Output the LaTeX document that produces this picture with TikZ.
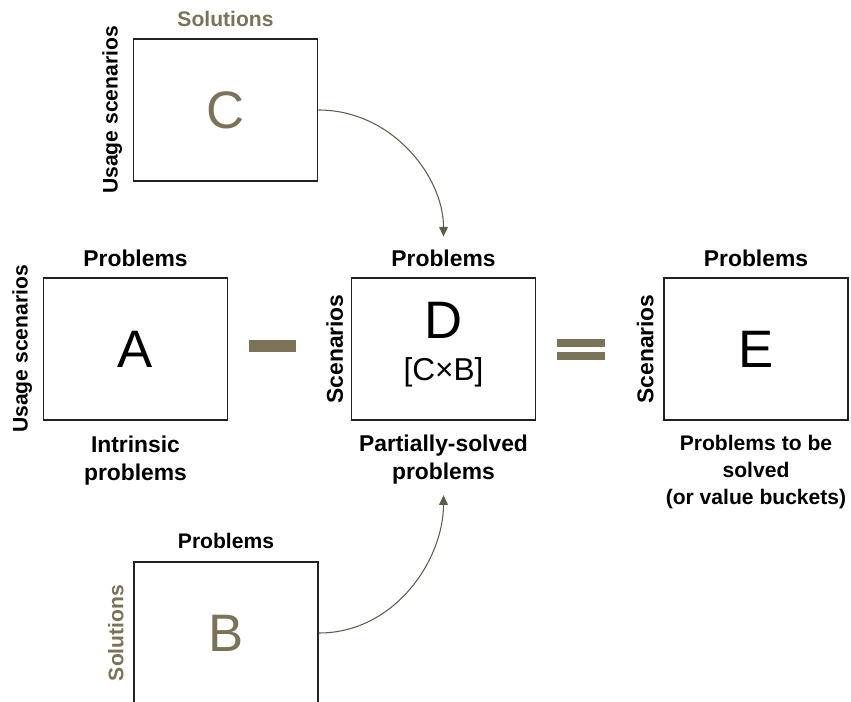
\documentclass[tikz,border=0pt]{standalone}
\usepackage{fontspec}
\setmainfont{Liberation Sans}
\usetikzlibrary{positioning,arrows.meta}
\definecolor{olivetone}{RGB}{122,115,88}
\definecolor{arrowtone}{RGB}{95,92,75}
\definecolor{edgetone}{RGB}{34,34,30}
\tikzset{
  box/.style={draw=edgetone, line width=1.1pt, minimum width=3.68cm, minimum height=2.84cm, inner sep=0pt},
  bigletter/.style={inner sep=0pt, font=\fontsize{30}{36}\selectfont},
  toplabel/.style={inner sep=0pt, font=\fontsize{13}{15}\selectfont\bfseries},
  sidelabel/.style={inner sep=0pt, rotate=90, anchor=south, font=\fontsize{12}{14}\selectfont\bfseries},
  notelabel/.style={inner sep=0pt, align=center, font=\fontsize{13}{15.5}\selectfont\bfseries},
  feed/.style={arrowtone, line width=0.6pt, -{Triangle[length=5.5pt,width=5pt]}}
}

\begin{document}
\begin{tikzpicture}
\useasboundingbox (0cm,0cm) rectangle (17.02cm,-14.04cm);

\node[box, bigletter, text=olivetone] (boxC) at (4.51cm,-2.20cm) {C};
\node[box, bigletter] (boxA) at (2.71cm,-6.98cm) {A};
\node[box] (boxD) at (8.87cm,-6.98cm) {};
\node[box, bigletter] (boxE) at (15.12cm,-6.98cm) {E};
\node[box, bigletter, text=olivetone] (boxB) at (4.52cm,-12.66cm) {B};

\node[bigletter] (letD) at ([yshift=0.58cm]boxD.center) {D};
\node[inner sep=0pt, font=\fontsize{18}{22}\selectfont] (prodD) at ([yshift=-0.46cm]boxD.center) {[C×B]};

\node[toplabel, font=\fontsize{12}{14}\selectfont\bfseries, text=olivetone, above=0.22cm of boxC] (solC) {Solutions};
\node[sidelabel] (useC) at ([xshift=-0.2cm]boxC.west) {Usage scenarios};

\node[toplabel, above=0.2cm of boxA] (probA) {Problems};
\node[sidelabel] (useA) at ([xshift=-0.2cm]boxA.west) {Usage scenarios};
\node[notelabel, below=0.3cm of boxA] (noteA) {Intrinsic\\problems};

\node[toplabel, above=0.2cm of boxD] (probD) {Problems};
\node[sidelabel, font=\fontsize{13}{15}\selectfont\bfseries] (scenD) at ([xshift=-0.14cm]boxD.west) {Scenarios};
\node[notelabel, below=0.28cm of boxD] (noteD) {Partially-solved\\problems};

\node[toplabel, above=0.2cm of boxE] (probE) {Problems};
\node[sidelabel, font=\fontsize{13}{15}\selectfont\bfseries] (scenE) at ([xshift=-0.18cm]boxE.west) {Scenarios};
\node[notelabel, font=\fontsize{12}{15.2}\selectfont\bfseries, below=0.28cm of boxE] (noteE) {Problems to be\\solved\\(or value buckets)};

\node[toplabel, font=\fontsize{12}{14}\selectfont\bfseries, above=0.24cm of boxB] (probB) {Problems};
\node[sidelabel, text=olivetone] (solB) at ([xshift=-0.18cm]boxB.west) {Solutions};

\fill[olivetone] (4.98cm,-6.80cm) rectangle (5.92cm,-7.04cm);
\fill[olivetone] (11.14cm,-6.78cm) rectangle (12.10cm,-6.94cm);
\fill[olivetone] (11.14cm,-7.04cm) rectangle (12.10cm,-7.20cm);

\draw[feed, shorten >=0.26cm] (boxC.east) to[out=0,in=90] (probD.north);
\draw[feed, shorten >=0.22cm] (boxB.east) to[out=0,in=-90] (noteD.south);
\end{tikzpicture}
\end{document}
